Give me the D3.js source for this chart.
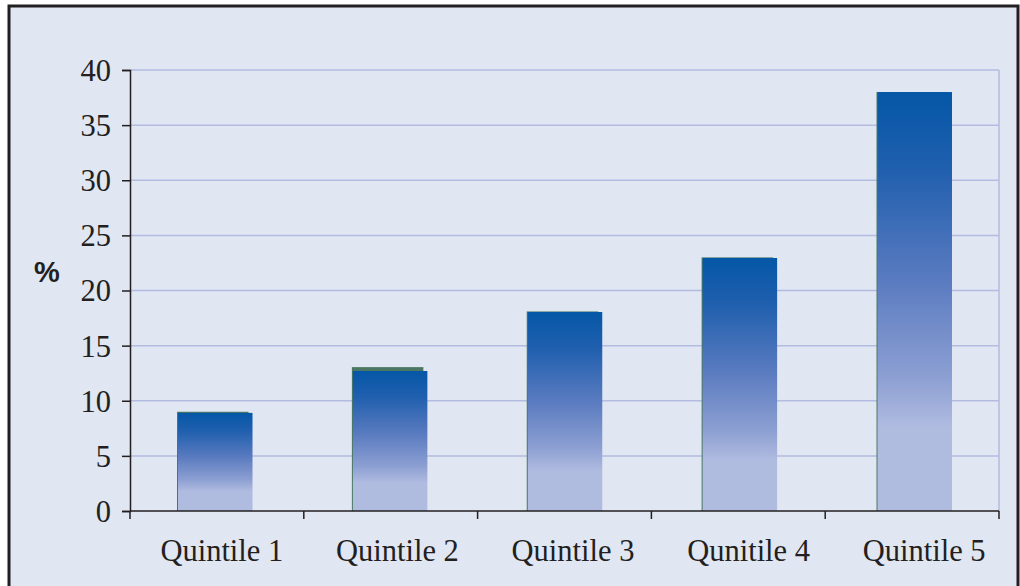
<!DOCTYPE html>
<html>
<head>
<meta charset="utf-8">
<script src="https://cdn.jsdelivr.net/npm/d3@7/dist/d3.min.js"></script>
<style>
  html, body { margin: 0; padding: 0; background: #ffffff; }
  svg { display: block; }
</style>
</head>
<body>
<script>
// Share of total by income quintile (%)
const categories = ["Quintile 1", "Quintile 2", "Quintile 3", "Qunitile 4", "Quintile 5"];
const backValues = [9.0, 13.05, 18.1, 23.0, 38.0];   // green series, drawn behind
const frontValues = [8.9, 12.7, 18.05, 22.95, 38.0]; // blue gradient series
const yTicks = [0, 5, 10, 15, 20, 25, 30, 35, 40];

const W = 1020, H = 586;
const plot = { left: 130, right: 999, top: 70, bottom: 511 };
const serif = "'Liberation Serif', 'Times New Roman', serif";

const svg = d3.select("body").append("svg")
  .attr("width", W).attr("height", H);

// Panel with dark frame
svg.append("rect")
  .attr("x", 9).attr("y", 6)
  .attr("width", 1009).attr("height", 600)
  .attr("fill", "#e0e6f2")
  .attr("stroke", "#231f20").attr("stroke-width", 3);

// Category axis (tick boundaries), bar placement and label placement
const xAxisScale = d3.scaleBand().domain(categories).range([plot.left, plot.right]);
const xBar = d3.scaleBand()
  .domain(categories)
  .range([130, 1000])
  .paddingInner(0.574)
  .paddingOuter(0.2745);
const xLabel = d3.scaleBand().domain(categories).range([134, 1012]);

const y = d3.scaleLinear().domain([0, 40]).range([plot.bottom, plot.top]);

// Vertical gradient for the front bars
const defs = svg.append("defs");
const grad = defs.append("linearGradient")
  .attr("id", "barGrad")
  .attr("x1", 0).attr("y1", 0).attr("x2", 0).attr("y2", 1);
[
  [0, "#0557a7"],
  [0.18, "#1f5fae"],
  [0.45, "#5a7bc0"],
  [0.68, "#8c9fd2"],
  [0.8, "#b0bbe0"],
  [1, "#b0bbe0"]
].forEach(([o, c]) => grad.append("stop").attr("offset", o).attr("stop-color", c));

// Horizontal gridlines
svg.append("g")
  .selectAll("line")
  .data(yTicks.filter(d => d > 0))
  .join("line")
  .attr("x1", plot.left).attr("x2", plot.right)
  .attr("y1", d => y(d)).attr("y2", d => y(d))
  .attr("stroke", "#b3bbe1").attr("stroke-width", 1.5);

// Right edge of plot area
svg.append("line")
  .attr("x1", plot.right).attr("x2", plot.right)
  .attr("y1", plot.top).attr("y2", plot.bottom)
  .attr("stroke", "#b3bbe1").attr("stroke-width", 1.5);

// Back series
svg.append("g")
  .selectAll("rect")
  .data(backValues)
  .join("rect")
  .attr("x", (d, i) => xBar(categories[i]) - 1)
  .attr("width", xBar.bandwidth() - 3)
  .attr("y", d => y(d))
  .attr("height", d => y(0) - y(d))
  .attr("fill", "#4a7862");

// Front series
svg.append("g")
  .selectAll("rect")
  .data(frontValues)
  .join("rect")
  .attr("x", (d, i) => xBar(categories[i]))
  .attr("width", xBar.bandwidth())
  .attr("y", d => y(d))
  .attr("height", d => y(0) - y(d))
  .attr("fill", "url(#barGrad)");

// Y axis
const yAxis = svg.append("g")
  .attr("transform", `translate(${plot.left},0)`)
  .call(d3.axisLeft(y).tickValues(yTicks).tickSize(8).tickPadding(11).tickFormat(d3.format("d")));
yAxis.select(".domain").attr("stroke", "#231f20").attr("stroke-width", 1.5);
yAxis.selectAll(".tick line").attr("stroke", "#231f20").attr("stroke-width", 1.5);
yAxis.selectAll(".tick text")
  .attr("font-family", serif)
  .attr("font-size", 30.5).attr("fill", "#231f20")
  .attr("dy", "0.34em");

// X axis with ticks at category boundaries
const xg = svg.append("g");
xg.append("line")
  .attr("x1", plot.left).attr("x2", plot.right)
  .attr("y1", plot.bottom).attr("y2", plot.bottom)
  .attr("stroke", "#231f20").attr("stroke-width", 1.5);
const edges = categories.map(c => xAxisScale(c)).concat([plot.right]);
xg.selectAll("line.tick")
  .data(edges)
  .join("line")
  .attr("class", "tick")
  .attr("x1", d => d).attr("x2", d => d)
  .attr("y1", plot.bottom).attr("y2", plot.bottom + 8)
  .attr("stroke", "#231f20").attr("stroke-width", 1.5);
xg.selectAll("text")
  .data(categories)
  .join("text")
  .attr("x", d => xLabel(d) + xLabel.bandwidth() / 2)
  .attr("y", 561)
  .attr("text-anchor", "middle")
  .attr("font-family", serif)
  .attr("font-size", 30.5).attr("fill", "#231f20")
  .text(d => d);

// Y axis unit label
svg.append("text")
  .attr("x", 47).attr("y", 282)
  .attr("text-anchor", "middle")
  .attr("font-family", "'Liberation Sans', Arial, sans-serif")
  .attr("font-weight", "bold")
  .attr("font-size", 29).attr("fill", "#231f20")
  .text("%");
</script>
</body>
</html>
